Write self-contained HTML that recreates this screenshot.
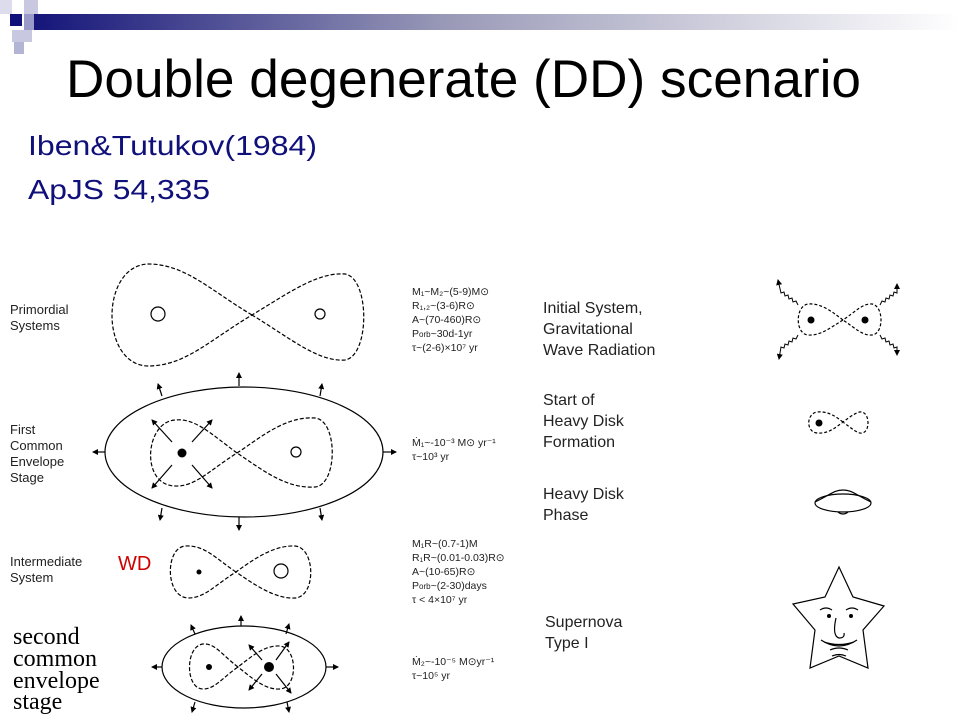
<!DOCTYPE html>
<html><head><meta charset="utf-8"><style>
html,body{margin:0;padding:0;background:#fff;}
svg{display:block;}
</style></head><body>
<svg width="960" height="720" viewBox="0 0 960 720" xmlns="http://www.w3.org/2000/svg">
<defs>
<linearGradient id="g" x1="0" x2="1" y1="0" y2="0">
<stop offset="0" stop-color="#14147a"/><stop offset="0.45" stop-color="#9a9ab8"/><stop offset="1" stop-color="#ffffff"/>
</linearGradient>
<marker id="a" markerWidth="6" markerHeight="6" refX="5" refY="3" orient="auto" markerUnits="userSpaceOnUse">
<path d="M0,0 L6,3 L0,6 Z" fill="#000"/></marker>
</defs>
<!-- header -->
<rect x="0" y="0" width="12" height="14" fill="#dcdcec"/>
<rect x="24" y="0" width="14" height="14" fill="#c8c8e0"/>
<rect x="30" y="14" width="930" height="16" fill="url(#g)"/>
<rect x="10" y="14" width="12" height="12" fill="#10107a"/>
<rect x="24" y="14" width="10" height="16" fill="#9a9ac8"/>
<rect x="12" y="30" width="20" height="12" fill="#c8c8e0"/>
<rect x="14" y="42" width="10" height="12" fill="#b4b4d4"/>
<text x="66" y="97" font-family="Liberation Sans, sans-serif" font-size="53" textLength="795" lengthAdjust="spacingAndGlyphs" fill="#000">Double degenerate (DD) scenario</text>
<text x="28" y="155" font-family="Liberation Sans, sans-serif" font-size="28" textLength="289" lengthAdjust="spacingAndGlyphs" fill="#10107a">Iben&amp;Tutukov(1984)</text>
<text x="28" y="199" font-family="Liberation Sans, sans-serif" font-size="28" textLength="182" lengthAdjust="spacingAndGlyphs" fill="#10107a">ApJS 54,335</text>

<g font-family="Liberation Sans, sans-serif" font-size="13" fill="#222">
<text x="10" y="314">Primordial</text><text x="10" y="330">Systems</text>
<text x="10" y="434">First</text><text x="10" y="450">Common</text><text x="10" y="466">Envelope</text><text x="10" y="482">Stage</text>
<text x="10" y="566">Intermediate</text><text x="10" y="582">System</text>
</g>
<g font-family="Liberation Serif, serif" font-size="24" fill="#000">
<text x="13" y="644">second</text><text x="13" y="666">common</text><text x="13" y="688">envelope</text><text x="13" y="709">stage</text>
</g>
<text x="118" y="570" font-family="Liberation Sans, sans-serif" font-size="20" fill="#d00000">WD</text>

<g fill="none" stroke="#000" stroke-width="1.2">
<!-- primordial -->
<path stroke-dasharray="4,2" d="M252,315 C210,290 185,264 148,264 C100,266 100,365 148,366 C185,366 210,340 252,315 C290,292 318,272 345,274 C370,278 370,356 345,360 C318,362 290,338 252,315 Z"/>
<circle cx="158" cy="314" r="7"/><circle cx="320" cy="314" r="5"/>
<!-- first CE -->
<ellipse cx="244" cy="452" rx="139" ry="65"/>
<path stroke-dasharray="4,2" d="M237,453 C210,433 195,418 175,420 C145,422 140,485 175,486 C195,487 210,470 237,453 C260,438 285,416 315,418 C338,420 338,485 315,487 C285,489 260,468 237,453 Z"/>
<circle cx="296" cy="452" r="5"/>
<g marker-end="url(#a)">
<line x1="239" y1="386" x2="239" y2="373"/><line x1="162" y1="396" x2="158" y2="384"/><line x1="320" y1="396" x2="322" y2="384"/>
<line x1="162" y1="508" x2="160" y2="520"/><line x1="239" y1="517" x2="239" y2="530"/><line x1="320" y1="508" x2="322" y2="520"/>
<line x1="105" y1="452" x2="93" y2="452"/><line x1="383" y1="452" x2="396" y2="452"/>
<line x1="172" y1="442" x2="152" y2="420"/><line x1="192" y1="442" x2="212" y2="420"/>
<line x1="172" y1="465" x2="152" y2="488"/><line x1="192" y1="465" x2="212" y2="488"/>
</g>
<!-- intermediate -->
<path stroke-dasharray="4,2" d="M236,572 C215,558 205,545 185,546 C165,548 165,597 188,598 C205,598 215,585 236,572 C255,558 275,545 295,546 C316,548 316,597 295,598 C275,599 255,585 236,572 Z"/>
<circle cx="281" cy="571" r="7"/>
<!-- second CE -->
<ellipse cx="244" cy="667" rx="82" ry="41"/>
<path stroke-dasharray="4,2" d="M238,667 C222,655 215,643 203,644 C185,646 185,689 203,689 C215,689 222,678 238,667 C252,656 265,645 280,646 C298,648 298,688 280,689 C265,690 252,678 238,667 Z"/>
<g marker-end="url(#a)">
<line x1="241" y1="626" x2="241" y2="616"/><line x1="195" y1="634" x2="191" y2="625"/><line x1="286" y1="634" x2="289" y2="624"/>
<line x1="162" y1="667" x2="152" y2="667"/><line x1="326" y1="667" x2="338" y2="667"/>
<line x1="195" y1="702" x2="192" y2="712"/><line x1="287" y1="702" x2="289" y2="712"/>
<line x1="262" y1="660" x2="249" y2="645"/><line x1="276" y1="660" x2="289" y2="642"/>
<line x1="262" y1="674" x2="249" y2="690"/><line x1="276" y1="674" x2="291" y2="693"/>
</g>
<!-- right icons -->
<path stroke-dasharray="3,2" d="M843,320 C830,310 820,303 808,304 C795,306 795,334 808,335 C820,336 830,328 843,320 C855,312 863,303 872,304 C884,306 884,334 872,335 C863,336 855,328 843,320 Z"/>
<g marker-end="url(#a)" stroke-width="1">
<path d="M798,305 l-2,-4 l-3,1 l-1,-4 l-3,1 l-1,-4 l-3,1 l-1,-4 l-3,1 L778,280"/>
<path d="M880,305 l2,-4 l3,1 l1,-4 l3,1 l1,-4 l3,1 l1,-4 l3,1 L897,284"/>
<path d="M798,335 l-2,4 l-3,-1 l-1,4 l-3,-1 l-1,4 l-3,-1 l-1,4 l-3,-1 L779,359"/>
<path d="M880,335 l2,4 l3,-1 l1,4 l3,-1 l1,4 l3,-1 l1,4 l3,-1 L897,355"/>
</g>
<path stroke-dasharray="3,2" d="M843,422 C835,416 828,411 817,412 C806,414 806,432 817,433 C828,434 835,428 843,422 C851,416 858,411 862,412 C870,414 870,432 862,433 C858,434 851,428 843,422 Z"/>
<ellipse cx="843" cy="503" rx="28" ry="9"/>
<path d="M815,502 C830,495 834,490 843,490 C852,490 856,495 871,502"/>
<path d="M838,512 q5,4 10,0"/>
<polygon points="839,567 853,597 884,606 863,630 868,668 839,656 810,668 815,630 793,604 825,597"/>
<path d="M820,610 q6,-4 12,0 M846,610 q6,-4 12,0 M836,618 q-4,18 3,20 q6,0 5,-5 M821,640 q18,12 36,0 M824,642 q15,5 30,0 M830,650 q9,-4 18,0 M832,656 q7,-3 14,0"/>
</g>
<g fill="#000">
<circle cx="182" cy="453" r="4.5"/><circle cx="199" cy="572" r="2.5"/>
<circle cx="209" cy="667" r="3"/><circle cx="269" cy="667" r="5"/>
<circle cx="811" cy="320" r="3.5"/><circle cx="865" cy="320" r="3.5"/>
<circle cx="819" cy="423" r="3.5"/>
<circle cx="829" cy="616" r="2"/><circle cx="851" cy="616" r="2"/>
</g>

<g font-family="Liberation Sans, sans-serif" font-size="10.5" fill="#222">
<text x="412" y="295">M₁~M₂~(5-9)M⊙</text>
<text x="412" y="309">R₁,₂~(3-6)R⊙</text>
<text x="412" y="323">A~(70-460)R⊙</text>
<text x="412" y="337">P<tspan font-size="8">orb</tspan>~30d-1yr</text>
<text x="412" y="351">τ~(2-6)×10⁷ yr</text>
<text x="412" y="446">Ṁ₁~-10⁻³ M⊙ yr⁻¹</text>
<text x="412" y="460">τ~10³ yr</text>
<text x="412" y="547">M₁R~(0.7-1)M</text>
<text x="412" y="561">R₁R~(0.01-0.03)R⊙</text>
<text x="412" y="575">A~(10-65)R⊙</text>
<text x="412" y="589">P<tspan font-size="8">orb</tspan>~(2-30)days</text>
<text x="412" y="603">τ &lt; 4×10⁷ yr</text>
<text x="412" y="665">Ṁ₂~-10⁻⁵ M⊙yr⁻¹</text>
<text x="412" y="679">τ~10⁵ yr</text>
</g>
<g font-family="Liberation Sans, sans-serif" font-size="16" fill="#222">
<text x="543" y="313">Initial System,</text><text x="543" y="334">Gravitational</text><text x="543" y="355">Wave Radiation</text>
<text x="543" y="405">Start of</text><text x="543" y="426">Heavy Disk</text><text x="543" y="447">Formation</text>
<text x="543" y="499">Heavy Disk</text><text x="543" y="520">Phase</text>
<text x="545" y="627">Supernova</text><text x="545" y="648">Type I</text>
</g>
</svg>
</body></html>
